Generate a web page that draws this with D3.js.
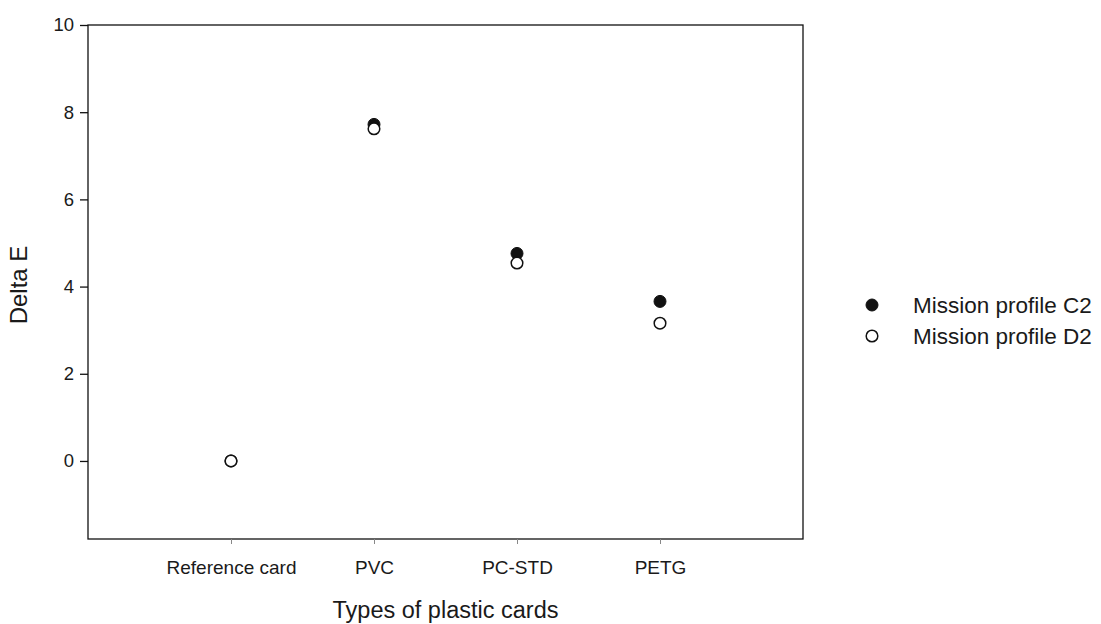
<!DOCTYPE html>
<html><head><meta charset="utf-8">
<script src="https://cdn.jsdelivr.net/npm/d3@7"></script>
<style>body{margin:0;background:#fff;} text{font-family:"Liberation Sans",Arial,sans-serif;fill:#1a1a1a;}</style>
</head><body>
<svg id="c" width="1101" height="624"></svg>
<script>
const categories = ["Reference card", "PVC", "PC-STD", "PETG"];
const seriesNames = ["Mission profile C2", "Mission profile D2"];
const valuesC2 = [0, 7.72, 4.76, 3.66];
const valuesD2 = [0, 7.62, 4.54, 3.16];
const yTicks = [0, 2, 4, 6, 8, 10];

const svg = d3.select("#c");
const L = 88, R = 803, T = 25, B = 539;
const x = d3.scaleLinear().domain([0, 5]).range([L, R]);
const y = d3.scaleLinear().domain([-1.79, 10]).range([B, T]);

// frame
svg.append("rect").attr("x", L).attr("y", T).attr("width", R - L).attr("height", B - T)
  .attr("fill", "none").attr("stroke", "#111").attr("stroke-width", 1.3);

// y axis
const ya = svg.append("g").attr("transform", `translate(${L},0)`)
  .call(d3.axisLeft(y).tickValues(yTicks).tickSize(8).tickPadding(6).tickFormat(d3.format("d")));
ya.select(".domain").remove();
ya.selectAll("line").attr("stroke", "#111").attr("stroke-width", 1.3);
ya.selectAll("text").style("font-size", "18.5px").attr("fill", "#1a1a1a");

// x axis
const xa = svg.append("g").attr("transform", `translate(0,${B})`)
  .call(d3.axisBottom(x).tickValues([1, 2, 3, 4]).tickSize(5).tickPadding(17)
    .tickFormat((d) => categories[d - 1]));
xa.select(".domain").remove();
xa.selectAll("line").attr("stroke", "#888").attr("stroke-width", 1);
xa.selectAll("text").style("font-size", "19px").attr("fill", "#1a1a1a");

// titles
svg.append("text").attr("x", x(2.5)).attr("y", 618).attr("text-anchor", "middle")
  .style("font-size", "23.5px").text("Types of plastic cards");
svg.append("text").attr("transform", `translate(27,${(T + B) / 2 + 3}) rotate(-90)`)
  .attr("text-anchor", "middle").style("font-size", "24px").text("Delta E");

// points
const data = categories.map((c, i) => ({ i: i + 1, c2: valuesC2[i], d2: valuesD2[i] }));
svg.selectAll(".c2").data(data).join("circle").attr("class", "c2")
  .attr("cx", d => x(d.i)).attr("cy", d => y(d.c2)).attr("r", 6)
  .attr("fill", "#111").attr("stroke", "#111").attr("stroke-width", 1);
svg.selectAll(".d2").data(data).join("circle").attr("class", "d2")
  .attr("cx", d => x(d.i)).attr("cy", d => y(d.d2)).attr("r", 5.8)
  .attr("fill", "#fff").attr("stroke", "#111").attr("stroke-width", 1.5);

// legend
const lg = svg.append("g");
seriesNames.forEach((s, k) => {
  const yy = 305 + k * 31;
  lg.append("circle").attr("cx", 872).attr("cy", yy).attr("r", k === 0 ? 6 : 5.8)
    .attr("fill", k === 0 ? "#111" : "#fff").attr("stroke", "#111").attr("stroke-width", k === 0 ? 1 : 1.5);
  lg.append("text").attr("x", 913).attr("y", yy + 8).style("font-size", "22.5px").text(s);
});
</script>
</body></html>
